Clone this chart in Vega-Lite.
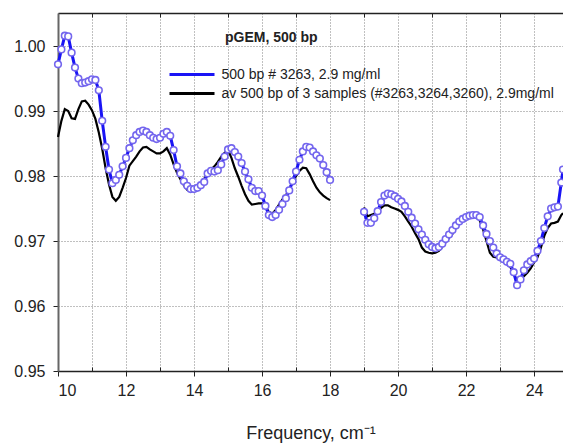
{
  "$schema": "https://vega.github.io/schema/vega-lite/v6.json",
  "autosize": {"type": "none"},
  "padding": {"left": 58, "top": 13, "right": 0, "bottom": 72},
  "width": 505,
  "height": 358,
  "background": "white",
  "config": {
    "view": {"stroke": null},
    "font": "Liberation Sans",
    "axis": {"labelFont": "Liberation Sans", "titleFont": "Liberation Sans"}
  },
  "title": {
    "text": "pGEM, 500 bp",
    "fontSize": 14,
    "fontWeight": "bold",
    "font": "Liberation Sans",
    "color": "#222",
    "anchor": "start",
    "frame": "group",
    "dx": 167,
    "offset": -43,
    "baseline": "alphabetic"
  },
  "resolve": {"axis": {"x": "independent"}},
  "data": {"values": [
    {"s":"a","g":1,"f":10.0,"v":0.9972},{"s":"a","g":1,"f":10.1,"v":0.9995},{"s":"a","g":1,"f":10.2,"v":1.0016},{"s":"a","g":1,"f":10.3,"v":1.0015},{"s":"a","g":1,"f":10.4,"v":0.9990},
    {"s":"a","g":1,"f":10.5,"v":0.9967},{"s":"a","g":1,"f":10.6,"v":0.9950},{"s":"a","g":1,"f":10.7,"v":0.9943},{"s":"a","g":1,"f":10.8,"v":0.9944},{"s":"a","g":1,"f":10.9,"v":0.9946},
    {"s":"a","g":1,"f":11.0,"v":0.9949},{"s":"a","g":1,"f":11.1,"v":0.9948},{"s":"a","g":1,"f":11.2,"v":0.9932},{"s":"a","g":1,"f":11.3,"v":0.9885},{"s":"a","g":1,"f":11.4,"v":0.9845},
    {"s":"a","g":1,"f":11.5,"v":0.9810},{"s":"a","g":1,"f":11.6,"v":0.9789},{"s":"a","g":1,"f":11.7,"v":0.9794},{"s":"a","g":1,"f":11.8,"v":0.9802},{"s":"a","g":1,"f":11.9,"v":0.9815},
    {"s":"a","g":1,"f":12.0,"v":0.9828},{"s":"a","g":1,"f":12.1,"v":0.9843},{"s":"a","g":1,"f":12.2,"v":0.9855},{"s":"a","g":1,"f":12.3,"v":0.9863},{"s":"a","g":1,"f":12.4,"v":0.9868},
    {"s":"a","g":1,"f":12.5,"v":0.9870},{"s":"a","g":1,"f":12.6,"v":0.9868},{"s":"a","g":1,"f":12.7,"v":0.9863},{"s":"a","g":1,"f":12.8,"v":0.9859},{"s":"a","g":1,"f":12.9,"v":0.9857},
    {"s":"a","g":1,"f":13.0,"v":0.9859},{"s":"a","g":1,"f":13.1,"v":0.9865},{"s":"a","g":1,"f":13.2,"v":0.9868},{"s":"a","g":1,"f":13.3,"v":0.9862},{"s":"a","g":1,"f":13.4,"v":0.9840},
    {"s":"a","g":1,"f":13.5,"v":0.9815},{"s":"a","g":1,"f":13.6,"v":0.9804},{"s":"a","g":1,"f":13.7,"v":0.9792},{"s":"a","g":1,"f":13.8,"v":0.9785},{"s":"a","g":1,"f":13.9,"v":0.9780},
    {"s":"a","g":1,"f":14.0,"v":0.9780},{"s":"a","g":1,"f":14.1,"v":0.9782},{"s":"a","g":1,"f":14.2,"v":0.9786},{"s":"a","g":1,"f":14.3,"v":0.9791},{"s":"a","g":1,"f":14.4,"v":0.9804},
    {"s":"a","g":1,"f":14.5,"v":0.9808},{"s":"a","g":1,"f":14.6,"v":0.9807},{"s":"a","g":1,"f":14.7,"v":0.9809},{"s":"a","g":1,"f":14.8,"v":0.9818},{"s":"a","g":1,"f":14.9,"v":0.9830},
    {"s":"a","g":1,"f":15.0,"v":0.9841},{"s":"a","g":1,"f":15.1,"v":0.9843},{"s":"a","g":1,"f":15.2,"v":0.9837},{"s":"a","g":1,"f":15.3,"v":0.9830},{"s":"a","g":1,"f":15.4,"v":0.9820},
    {"s":"a","g":1,"f":15.5,"v":0.9807},{"s":"a","g":1,"f":15.6,"v":0.9795},{"s":"a","g":1,"f":15.7,"v":0.9782},{"s":"a","g":1,"f":15.8,"v":0.9777},{"s":"a","g":1,"f":15.9,"v":0.9777},
    {"s":"a","g":1,"f":16.0,"v":0.9770},{"s":"a","g":1,"f":16.1,"v":0.9754},{"s":"a","g":1,"f":16.2,"v":0.9740},{"s":"a","g":1,"f":16.3,"v":0.9737},{"s":"a","g":1,"f":16.4,"v":0.9740},
    {"s":"a","g":1,"f":16.5,"v":0.9748},{"s":"a","g":1,"f":16.6,"v":0.9757},{"s":"a","g":1,"f":16.7,"v":0.9766},{"s":"a","g":1,"f":16.8,"v":0.9778},{"s":"a","g":1,"f":16.9,"v":0.9792},
    {"s":"a","g":1,"f":17.0,"v":0.9807},{"s":"a","g":1,"f":17.1,"v":0.9825},{"s":"a","g":1,"f":17.2,"v":0.9838},{"s":"a","g":1,"f":17.3,"v":0.9845},{"s":"a","g":1,"f":17.4,"v":0.9844},
    {"s":"a","g":1,"f":17.5,"v":0.9838},{"s":"a","g":1,"f":17.6,"v":0.9832},{"s":"a","g":1,"f":17.7,"v":0.9827},{"s":"a","g":1,"f":17.8,"v":0.9817},{"s":"a","g":1,"f":17.9,"v":0.9806},
    {"s":"a","g":1,"f":18.0,"v":0.9794},
    {"s":"a","g":2,"f":19.0,"v":0.9745},{"s":"a","g":2,"f":19.1,"v":0.9728},{"s":"a","g":2,"f":19.2,"v":0.9728},{"s":"a","g":2,"f":19.3,"v":0.9735},{"s":"a","g":2,"f":19.4,"v":0.9746},
    {"s":"a","g":2,"f":19.5,"v":0.9760},{"s":"a","g":2,"f":19.6,"v":0.9770},{"s":"a","g":2,"f":19.7,"v":0.9773},{"s":"a","g":2,"f":19.8,"v":0.9772},{"s":"a","g":2,"f":19.9,"v":0.9769},
    {"s":"a","g":2,"f":20.0,"v":0.9765},{"s":"a","g":2,"f":20.1,"v":0.9761},{"s":"a","g":2,"f":20.2,"v":0.9754},{"s":"a","g":2,"f":20.3,"v":0.9745},{"s":"a","g":2,"f":20.4,"v":0.9736},
    {"s":"a","g":2,"f":20.5,"v":0.9727},{"s":"a","g":2,"f":20.6,"v":0.9718},{"s":"a","g":2,"f":20.7,"v":0.9710},{"s":"a","g":2,"f":20.8,"v":0.9702},{"s":"a","g":2,"f":20.9,"v":0.9695},
    {"s":"a","g":2,"f":21.0,"v":0.9691},{"s":"a","g":2,"f":21.1,"v":0.9689},{"s":"a","g":2,"f":21.2,"v":0.9691},{"s":"a","g":2,"f":21.3,"v":0.9696},{"s":"a","g":2,"f":21.4,"v":0.9703},
    {"s":"a","g":2,"f":21.5,"v":0.9710},{"s":"a","g":2,"f":21.6,"v":0.9717},{"s":"a","g":2,"f":21.7,"v":0.9724},{"s":"a","g":2,"f":21.8,"v":0.9730},{"s":"a","g":2,"f":21.9,"v":0.9734},
    {"s":"a","g":2,"f":22.0,"v":0.9737},{"s":"a","g":2,"f":22.1,"v":0.9739},{"s":"a","g":2,"f":22.2,"v":0.9740},{"s":"a","g":2,"f":22.3,"v":0.9740},{"s":"a","g":2,"f":22.4,"v":0.9737},
    {"s":"a","g":2,"f":22.5,"v":0.9724},{"s":"a","g":2,"f":22.6,"v":0.9711},{"s":"a","g":2,"f":22.7,"v":0.9700},{"s":"a","g":2,"f":22.8,"v":0.9690},{"s":"a","g":2,"f":22.9,"v":0.9681},
    {"s":"a","g":2,"f":23.0,"v":0.9675},{"s":"a","g":2,"f":23.1,"v":0.9672},{"s":"a","g":2,"f":23.2,"v":0.9668},{"s":"a","g":2,"f":23.3,"v":0.9665},{"s":"a","g":2,"f":23.4,"v":0.9652},
    {"s":"a","g":2,"f":23.5,"v":0.9632},{"s":"a","g":2,"f":23.6,"v":0.9641},{"s":"a","g":2,"f":23.7,"v":0.9655},{"s":"a","g":2,"f":23.8,"v":0.9664},{"s":"a","g":2,"f":23.9,"v":0.9669},
    {"s":"a","g":2,"f":24.0,"v":0.9673},{"s":"a","g":2,"f":24.1,"v":0.9685},{"s":"a","g":2,"f":24.2,"v":0.9700},{"s":"a","g":2,"f":24.3,"v":0.9720},{"s":"a","g":2,"f":24.4,"v":0.9738},
    {"s":"a","g":2,"f":24.5,"v":0.9750},{"s":"a","g":2,"f":24.6,"v":0.9752},{"s":"a","g":2,"f":24.7,"v":0.9753},{"s":"a","g":2,"f":24.8,"v":0.9790},{"s":"a","g":2,"f":24.85,"v":0.9810},
    {"s":"b","g":1,"f":10.0,"v":0.9860},{"s":"b","g":1,"f":10.1,"v":0.9885},{"s":"b","g":1,"f":10.2,"v":0.9903},{"s":"b","g":1,"f":10.3,"v":0.9900},{"s":"b","g":1,"f":10.4,"v":0.9889},
    {"s":"b","g":1,"f":10.5,"v":0.9888},{"s":"b","g":1,"f":10.6,"v":0.9903},{"s":"b","g":1,"f":10.7,"v":0.9915},{"s":"b","g":1,"f":10.8,"v":0.9916},{"s":"b","g":1,"f":10.9,"v":0.9910},
    {"s":"b","g":1,"f":11.0,"v":0.9901},{"s":"b","g":1,"f":11.1,"v":0.9888},{"s":"b","g":1,"f":11.2,"v":0.9867},{"s":"b","g":1,"f":11.3,"v":0.9842},{"s":"b","g":1,"f":11.4,"v":0.9812},
    {"s":"b","g":1,"f":11.5,"v":0.9787},{"s":"b","g":1,"f":11.6,"v":0.9768},{"s":"b","g":1,"f":11.7,"v":0.9762},{"s":"b","g":1,"f":11.8,"v":0.9768},{"s":"b","g":1,"f":11.9,"v":0.9782},
    {"s":"b","g":1,"f":12.0,"v":0.9797},{"s":"b","g":1,"f":12.1,"v":0.9816},{"s":"b","g":1,"f":12.2,"v":0.9823},{"s":"b","g":1,"f":12.3,"v":0.9830},{"s":"b","g":1,"f":12.4,"v":0.9838},
    {"s":"b","g":1,"f":12.5,"v":0.9844},{"s":"b","g":1,"f":12.6,"v":0.9845},{"s":"b","g":1,"f":12.7,"v":0.9841},{"s":"b","g":1,"f":12.8,"v":0.9838},{"s":"b","g":1,"f":12.9,"v":0.9835},
    {"s":"b","g":1,"f":13.0,"v":0.9835},{"s":"b","g":1,"f":13.1,"v":0.9838},{"s":"b","g":1,"f":13.2,"v":0.9843},{"s":"b","g":1,"f":13.3,"v":0.9833},{"s":"b","g":1,"f":13.4,"v":0.9818},
    {"s":"b","g":1,"f":13.5,"v":0.9805},{"s":"b","g":1,"f":13.6,"v":0.9795},{"s":"b","g":1,"f":13.7,"v":0.9786},{"s":"b","g":1,"f":13.8,"v":0.9779},{"s":"b","g":1,"f":13.9,"v":0.9777},
    {"s":"b","g":1,"f":14.0,"v":0.9779},{"s":"b","g":1,"f":14.1,"v":0.9784},{"s":"b","g":1,"f":14.2,"v":0.9790},{"s":"b","g":1,"f":14.3,"v":0.9796},{"s":"b","g":1,"f":14.4,"v":0.9803},
    {"s":"b","g":1,"f":14.5,"v":0.9810},{"s":"b","g":1,"f":14.6,"v":0.9815},{"s":"b","g":1,"f":14.7,"v":0.9822},{"s":"b","g":1,"f":14.8,"v":0.9830},{"s":"b","g":1,"f":14.9,"v":0.9836},
    {"s":"b","g":1,"f":15.0,"v":0.9840},{"s":"b","g":1,"f":15.1,"v":0.9828},{"s":"b","g":1,"f":15.2,"v":0.9812},{"s":"b","g":1,"f":15.3,"v":0.9799},{"s":"b","g":1,"f":15.4,"v":0.9785},
    {"s":"b","g":1,"f":15.5,"v":0.9772},{"s":"b","g":1,"f":15.6,"v":0.9762},{"s":"b","g":1,"f":15.7,"v":0.9756},{"s":"b","g":1,"f":15.8,"v":0.9757},{"s":"b","g":1,"f":15.9,"v":0.9758},
    {"s":"b","g":1,"f":16.0,"v":0.9758},{"s":"b","g":1,"f":16.1,"v":0.9753},{"s":"b","g":1,"f":16.2,"v":0.9745},{"s":"b","g":1,"f":16.3,"v":0.9742},{"s":"b","g":1,"f":16.4,"v":0.9748},
    {"s":"b","g":1,"f":16.5,"v":0.9756},{"s":"b","g":1,"f":16.6,"v":0.9764},{"s":"b","g":1,"f":16.7,"v":0.9770},{"s":"b","g":1,"f":16.8,"v":0.9780},{"s":"b","g":1,"f":16.9,"v":0.9790},
    {"s":"b","g":1,"f":17.0,"v":0.9800},{"s":"b","g":1,"f":17.1,"v":0.9808},{"s":"b","g":1,"f":17.2,"v":0.9813},{"s":"b","g":1,"f":17.3,"v":0.9812},{"s":"b","g":1,"f":17.4,"v":0.9803},
    {"s":"b","g":1,"f":17.5,"v":0.9792},{"s":"b","g":1,"f":17.6,"v":0.9782},{"s":"b","g":1,"f":17.7,"v":0.9775},{"s":"b","g":1,"f":17.8,"v":0.9770},{"s":"b","g":1,"f":17.9,"v":0.9766},
    {"s":"b","g":1,"f":18.0,"v":0.9763},
    {"s":"b","g":2,"f":19.0,"v":0.9752},{"s":"b","g":2,"f":19.1,"v":0.9738},{"s":"b","g":2,"f":19.2,"v":0.9740},{"s":"b","g":2,"f":19.3,"v":0.9742},{"s":"b","g":2,"f":19.4,"v":0.9746},
    {"s":"b","g":2,"f":19.5,"v":0.9751},{"s":"b","g":2,"f":19.6,"v":0.9755},{"s":"b","g":2,"f":19.7,"v":0.9755},{"s":"b","g":2,"f":19.8,"v":0.9752},{"s":"b","g":2,"f":19.9,"v":0.9750},
    {"s":"b","g":2,"f":20.0,"v":0.9748},{"s":"b","g":2,"f":20.1,"v":0.9745},{"s":"b","g":2,"f":20.2,"v":0.9738},{"s":"b","g":2,"f":20.3,"v":0.9730},{"s":"b","g":2,"f":20.4,"v":0.9722},
    {"s":"b","g":2,"f":20.5,"v":0.9712},{"s":"b","g":2,"f":20.6,"v":0.9703},{"s":"b","g":2,"f":20.7,"v":0.9690},{"s":"b","g":2,"f":20.8,"v":0.9684},{"s":"b","g":2,"f":20.9,"v":0.9682},
    {"s":"b","g":2,"f":21.0,"v":0.9681},{"s":"b","g":2,"f":21.1,"v":0.9682},{"s":"b","g":2,"f":21.2,"v":0.9685},{"s":"b","g":2,"f":21.3,"v":0.9691},{"s":"b","g":2,"f":21.4,"v":0.9698},
    {"s":"b","g":2,"f":21.5,"v":0.9705},{"s":"b","g":2,"f":21.6,"v":0.9711},{"s":"b","g":2,"f":21.7,"v":0.9720},{"s":"b","g":2,"f":21.8,"v":0.9728},{"s":"b","g":2,"f":21.9,"v":0.9735},
    {"s":"b","g":2,"f":22.0,"v":0.9740},{"s":"b","g":2,"f":22.1,"v":0.9741},{"s":"b","g":2,"f":22.2,"v":0.9741},{"s":"b","g":2,"f":22.3,"v":0.9740},{"s":"b","g":2,"f":22.4,"v":0.9732},
    {"s":"b","g":2,"f":22.5,"v":0.9718},{"s":"b","g":2,"f":22.6,"v":0.9700},{"s":"b","g":2,"f":22.7,"v":0.9682},{"s":"b","g":2,"f":22.8,"v":0.9676},{"s":"b","g":2,"f":22.9,"v":0.9675},
    {"s":"b","g":2,"f":23.0,"v":0.9673},{"s":"b","g":2,"f":23.1,"v":0.9670},{"s":"b","g":2,"f":23.2,"v":0.9665},{"s":"b","g":2,"f":23.3,"v":0.9660},{"s":"b","g":2,"f":23.4,"v":0.9650},
    {"s":"b","g":2,"f":23.5,"v":0.9638},{"s":"b","g":2,"f":23.6,"v":0.9640},{"s":"b","g":2,"f":23.7,"v":0.9646},{"s":"b","g":2,"f":23.8,"v":0.9651},{"s":"b","g":2,"f":23.9,"v":0.9658},
    {"s":"b","g":2,"f":24.0,"v":0.9667},{"s":"b","g":2,"f":24.1,"v":0.9675},{"s":"b","g":2,"f":24.2,"v":0.9690},{"s":"b","g":2,"f":24.3,"v":0.9708},{"s":"b","g":2,"f":24.4,"v":0.9720},
    {"s":"b","g":2,"f":24.5,"v":0.9727},{"s":"b","g":2,"f":24.6,"v":0.9728},{"s":"b","g":2,"f":24.7,"v":0.9730},{"s":"b","g":2,"f":24.8,"v":0.9740},{"s":"b","g":2,"f":24.85,"v":0.9743}
  ]},
  "encoding": {
    "y": {
      "field": "v", "type": "quantitative",
      "scale": {"domain": [0.95, 1.0051], "nice": false, "zero": false},
      "axis": {
        "values": [0.95, 0.96, 0.97, 0.98, 0.99, 1.0],
        "format": ".2f",
        "labelFontSize": 16, "labelColor": "#222", "labelPadding": 8,
        "tickSize": 5, "tickColor": "#222",
        "domainColor": "#666", "domainWidth": 2,
        "grid": true, "gridColor": "#808080", "gridWidth": 1, "gridDash": [1, 2],
        "title": null
      }
    }
  },
  "layer": [
    {
      "transform": [{"filter": "datum.s == 'b'"}],
      "mark": {"type": "line", "strokeWidth": 2.2},
      "encoding": {
        "x": {
          "field": "f", "type": "quantitative",
          "scale": {"domain": [10, 24.85], "nice": false, "zero": false},
          "axis": {
            "orient": "bottom",
            "values": [10,11,12,13,14,15,16,17,18,19,20,21,22,23,24],
            "labelExpr": "datum.value % 2 == 0 ? format(datum.value, 'd') : ''",
            "labelFontSize": 16, "labelColor": "#222", "labelPadding": 6,
            "tickSize": {"condition": {"test": "datum.value % 2 == 1", "value": -4}, "value": 5},
            "tickColor": "#222",
            "domainColor": "#222", "domainWidth": 1.5,
            "grid": true, "gridColor": "#808080", "gridWidth": 1, "gridDash": [1, 2],
            "title": "Frequency, cm⁻¹", "titleFontSize": 18, "titleFontWeight": "normal", "titleColor": "#222", "titlePadding": 26
          }
        },
        "detail": {"field": "g"},
        "color": {
          "field": "s", "type": "nominal",
          "scale": {"domain": ["a", "b"], "range": ["#1a14f5", "#000000"]},
          "legend": {
            "orient": "none", "legendX": 122.5, "legendY": 50,
            "title": null,
            "symbolType": "M-2.25,0H2.25", "symbolSize": 400, "symbolStrokeWidth": 3,
            "labelFontSize": 14, "labelColor": "#222", "labelFont": "Liberation Sans",
            "labelOffset": 18, "rowPadding": 0, "labelLimit": 500,
            "labelExpr": "datum.value == 'a' ? '500 bp # 3263, 2.9 mg/ml' : 'av 500 bp of 3 samples (#3263,3264,3260), 2.9mg/ml'"
          }
        }
      }
    },
    {
      "transform": [{"filter": "datum.s == 'a'"}],
      "mark": {"type": "line", "strokeWidth": 3},
      "encoding": {
        "x": {
          "field": "f", "type": "quantitative",
          "axis": {
            "orient": "top",
            "values": [11,13,15,17,19,21,23],
            "labels": false, "title": null, "grid": false,
            "tickSize": -4, "tickColor": "#222",
            "domainColor": "#222", "domainWidth": 1.5
          }
        },
        "detail": {"field": "g"},
        "color": {"field": "s", "type": "nominal"}
      }
    },
    {
      "transform": [{"filter": "datum.s == 'a'"}],
      "mark": {"type": "point", "shape": "circle", "size": 44, "filled": false, "fill": "white", "fillOpacity": 1, "stroke": "#7466ee", "strokeWidth": 1.6, "opacity": 1},
      "encoding": {
        "x": {"field": "f", "type": "quantitative", "axis": null}
      }
    }
  ]
}
